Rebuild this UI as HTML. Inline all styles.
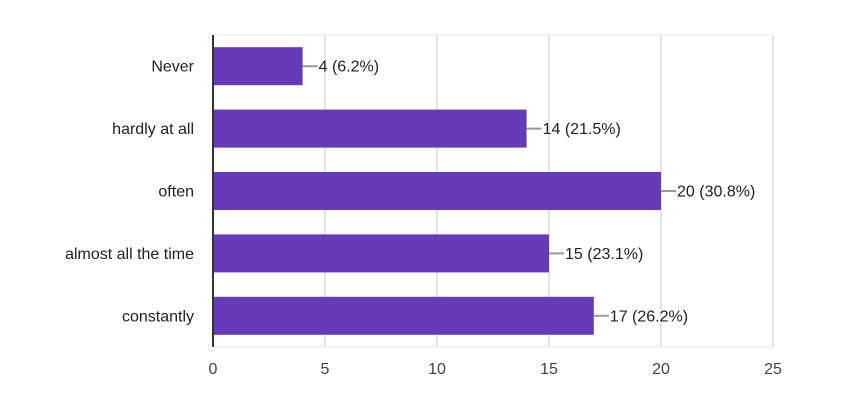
<!DOCTYPE html>
<html><head><meta charset="utf-8"><style>
html,body{margin:0;padding:0;background:#fff;}
svg{display:block;font-family:"Liberation Sans",Arial,sans-serif;}
</style></head><body>
<svg id="chart" width="850" height="404"></svg>
<script>
const categories = ["Never","hardly at all","often","almost all the time","constantly"];
const values = [4,14,20,15,17];
const valueLabels = ["4 (6.2%)","14 (21.5%)","20 (30.8%)","15 (23.1%)","17 (26.2%)"];
const ticks = [0,5,10,15,20,25];

const svg = document.getElementById('chart');
const NS = 'http://www.w3.org/2000/svg';
const x0 = 213, x1 = 773, yTop = 35, yBottom = 347;
const xMax = 25;
const band = (yBottom - yTop) / categories.length;
const barH = 38;
function xs(v){ return x0 + (v / xMax) * (x1 - x0); }
function ys(i){ return yTop + i * band + (band - barH) / 2; }
function mk(tag, attrs){ const e = document.createElementNS(NS, tag); for (const k in attrs) e.setAttribute(k, attrs[k]); svg.appendChild(e); return e; }

let b = mk('line',{x1:x0,y1:yTop,x2:x1,y2:yTop,stroke:'#e6e6e6','stroke-width':1});


b = mk('line',{x1:x0,y1:yBottom,x2:x1,y2:yBottom,stroke:'#e6e6e6','stroke-width':1});



ticks.forEach(t => {
  const x = xs(t);
  if (t > 0) {
    const g = mk('line',{x1:x,y1:yTop,x2:x,y2:yBottom,stroke:'#e6e6e6','stroke-width':2});
    
    
  }
  const tx = mk('text',{x:x,y:374,'text-anchor':'middle','font-size':16,fill:'#444'});
  tx.textContent = t;
  
  
});

categories.forEach((c, i) => {
  const y = ys(i);
  const w = xs(values[i]) - x0;
  const r = mk('rect',{x:x0,y:y,width:w,height:barH,fill:'#673ab7'});
  
  
  const cy = y + barH / 2;
  const l = mk('text',{x:194,y:cy+5.5,'text-anchor':'end','font-size':16,fill:'#222'});
  l.textContent = c;
  
  
  const ld = mk('line',{x1:xs(values[i]),y1:cy,x2:xs(values[i])+15,y2:cy,stroke:'#999','stroke-width':2});
  
  
  const vl = mk('text',{x:xs(values[i])+16,y:cy+5.5,'font-size':16,fill:'#222'});
  vl.textContent = valueLabels[i];
  
  
});

const ax = mk('line',{x1:x0,y1:yTop,x2:x0,y2:yBottom,stroke:'#333','stroke-width':2});


</script>
</body></html>
